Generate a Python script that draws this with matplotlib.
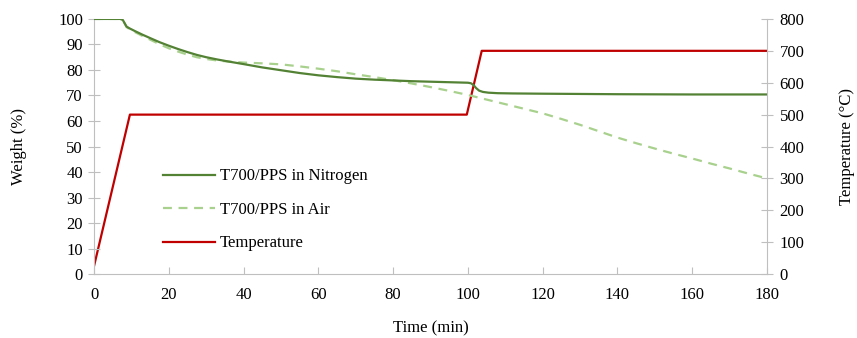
import matplotlib.pyplot as plt

plt.rcParams['font.family'] = ['Liberation Serif', 'DejaVu Serif']

# weight loss curves (min, %)
time_n2 = [0, 7, 7.7, 8.2, 8.7, 9.5, 11, 13, 15, 17.5, 20, 22.5, 25, 27.5, 30, 33,
           36, 40, 45, 50, 55, 60, 65, 70, 75, 80, 85, 90, 95, 100, 100.8, 101.5,
           102.2, 103, 104, 105.5, 108, 112, 120, 140, 160, 180]
weight_n2 = [100, 100, 99.6, 98.3, 97.0, 96.3, 95.2, 93.8, 92.5, 90.9, 89.5, 88.2,
             87.0, 85.9, 85.0, 84.1, 83.3, 82.3, 81.0, 79.9, 78.8, 77.9, 77.2, 76.6,
             76.2, 75.9, 75.6, 75.4, 75.2, 75.0, 74.8, 74.1, 72.9, 71.9, 71.4, 71.1,
             70.9, 70.8, 70.7, 70.5, 70.4, 70.4]

time_air = [0, 7, 7.7, 8.2, 8.7, 9.5, 11, 13, 15, 17.5, 20, 22.5, 25, 27.5, 30, 33,
            36, 40, 45, 50, 55, 60, 65, 70, 75, 80, 85, 90, 95, 100, 105, 110, 115,
            120, 125, 130, 135, 140, 145, 150, 155, 160, 165, 170, 175, 180]
weight_air = [100, 100, 99.6, 98.2, 96.8, 96.0, 94.8, 93.3, 91.9, 90.1, 88.5, 87.2,
              86.0, 85.0, 84.3, 83.7, 83.3, 82.9, 82.6, 82.2, 81.4, 80.5, 79.5, 78.3,
              77.2, 76.0, 74.7, 73.3, 71.8, 70.2, 68.4, 66.6, 64.8, 63.0, 60.8, 58.5,
              56.0, 53.5, 51.3, 49.2, 47.2, 45.3, 43.3, 41.4, 39.4, 37.5]

# furnace program (min, degC)
time_temp = [0, 9.6, 99.7, 103.7, 180]
temperature = [25, 500, 500, 700, 700]

green = '#548235'
light_green = '#a9d18e'
red = '#c00000'
grey = '#bfbfbf'
fs = 12

fig, ax = plt.subplots(figsize=(8.57, 3.38), dpi=100)
fig.subplots_adjust(left=0.1097, right=0.895, bottom=0.189, top=0.944)
ax2 = ax.twinx()

l1, = ax.plot(time_n2, weight_n2, color=green, lw=1.6, label='T700/PPS in Nitrogen', zorder=3)
l2, = ax.plot(time_air, weight_air, color=light_green, lw=1.6, ls=(0, (4, 3)),
              label='T700/PPS in Air', zorder=2)
l3, = ax2.plot(time_temp, temperature, color=red, lw=1.6, label='Temperature')

ax.set_xlim(0, 180)
ax.set_ylim(0, 100)
ax2.set_ylim(0, 800)
ax.set_xticks(range(0, 181, 20))
ax.set_yticks(range(0, 101, 10))
ax2.set_yticks(range(0, 801, 100))

for a in (ax, ax2):
    a.spines['top'].set_visible(False)
    for s in ('left', 'right', 'bottom'):
        a.spines[s].set_color(grey)
ax.spines['right'].set_visible(False)
ax2.spines['left'].set_visible(False)
ax2.spines['bottom'].set_visible(False)

ax.tick_params(axis='y', direction='inout', length=8, color=grey, labelsize=fs, pad=4)
ax.tick_params(axis='x', direction='in', length=5, color=grey, labelsize=fs, pad=9)
ax2.tick_params(axis='y', direction='inout', length=8, color=grey, labelsize=fs, pad=5)

ax.set_xlabel('Time (min)', fontsize=fs)
ax.set_ylabel('Weight (%)', fontsize=fs)
ax2.set_ylabel('Temperature (°C)', fontsize=fs)
ax.xaxis.set_label_coords(0.5, -0.18)
ax.yaxis.set_label_coords(-0.1, 0.5)
ax2.yaxis.set_label_coords(1.107, 0.5)

ax.legend(handles=[l1, l2, l3], loc='lower left', bbox_to_anchor=(0.08, 0.03),
          frameon=False, fontsize=fs, handlelength=3.1, labelspacing=1.05,
          handletextpad=0.3)
ax2.set_zorder(ax.get_zorder() - 1)
ax.patch.set_visible(False)

fig.savefig('out.png', dpi=100)
